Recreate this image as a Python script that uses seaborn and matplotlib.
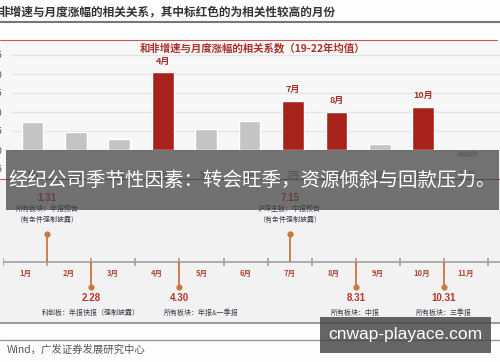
import numpy as np
import pandas as pd
import seaborn as sns
import matplotlib.pyplot as plt
from matplotlib.patches import Rectangle
from matplotlib.lines import Line2D

# bar chart data (12月 lies outside the crop)
months = ['1月', '2月', '3月', '4月', '5月', '6月', '7月', '8月', '9月', '10月', '11月']
corr = [0.075, 0.047, 0.029, 0.204, 0.055, 0.076, 0.130, 0.099, 0.015, 0.113, -0.019]
highlight = ['4月', '7月', '8月', '10月']
yticks = [-0.05, 0.00, 0.05, 0.10, 0.15, 0.20, 0.25]

# timeline data
tl_months = ['1月', '2月', '3月', '4月', '5月', '6月', '7月', '8月', '9月', '10月', '11月']
events = ['1.31', '2.28', '4.30', '7.15', '8.31', '10.31']
event_pos = [1.0, 2.0, 4.0, 6.5, 8.0, 10.0]
event_up = [True, False, False, True, False, False]
event_desc = ['所有板块：年报预告\n（有条件强制披露）',
              '科创板：年报快报（强制披露）',
              '所有板块：年报&一季报',
              '沪深主板：中报预告\n（有条件强制披露）',
              '所有板块：中报',
              '所有板块：三季报']

header = '非增速与月度涨幅的相关关系，其中标红色的为相关性较高的月份'
chart_title = '和非增速与月度涨幅的相关系数（19-22年均值）'
banner = '经纪公司季节性因素：转会旺季，资源倾斜与回款压力。'
source = 'Wind，广发证券发展研究中心'
watermark = 'cnwap-playace.com'

sns.set_style('white')
plt.rcParams['font.family'] = ['Noto Sans CJK SC', 'DejaVu Sans']

W, H = 500, 362
def fx(x):
    return x / W
def fy(y):
    return 1 - y / H

RED = '#a8221c'
DARKRED = '#a8322a'
fig = plt.figure(figsize=(5, 3.62), dpi=100, facecolor='#fdfdfd')

# backgrounds
fig.add_artist(Rectangle((0, fy(179)), 1, 139 / H, transform=fig.transFigure,
                         facecolor='#f7f7f7', edgecolor='none', zorder=-2))
fig.add_artist(Rectangle((0, fy(323)), 1, 144 / H, transform=fig.transFigure,
                         facecolor='#f2f2f2', edgecolor='none', zorder=-2))

# ---- bar chart
df = pd.DataFrame({'month': months, 'corr': corr})
palette = {m: (RED if m in highlight else '#c4c4c4') for m in months}
ax = fig.add_axes([10.8 / W, fy(169), 521 / W, 125.4 / H])
sns.barplot(data=df, x='month', y='corr', hue='month', palette=palette, legend=False,
            width=0.5, saturation=1, ax=ax)
ax.set_xlim(-0.5, 11.5)
ax.set_ylim(-0.05, 0.28)
ax.set_yticks(yticks)
ax.set_yticklabels([f'{t:.2f}' for t in yticks])
ax.grid(axis='y', color='#e4e4e4', lw=0.8)
ax.set_axisbelow(True)
ax.set_facecolor('none')
ax.set_xlabel('')
ax.set_ylabel('')
sns.despine(ax=ax, left=True, bottom=True)
ax.tick_params(axis='y', length=0, pad=6, labelsize=6.5, labelcolor='#555555')
ax.tick_params(axis='x', length=0, pad=1.5, labelsize=6, labelcolor='#666666')
for i, (m, v) in enumerate(zip(months, corr)):
    if m in highlight:
        ax.annotate(m, (i, v), xytext=(0, 5), textcoords='offset points', ha='center',
                    va='bottom', fontsize=6.5, fontweight='bold', color=DARKRED)

fig.text(-0.004, fy(12), header, fontsize=8.4, fontweight='bold', color='#333333',
         ha='left', va='center')
fig.add_artist(Line2D([0, 1], [fy(22), fy(22)], color='#777777', lw=1.5))
fig.add_artist(Line2D([0, 497 / W], [fy(40), fy(40)], color='#c9574f', lw=0.8))
fig.add_artist(Line2D([0, 1], [fy(179), fy(179)], color='#c9574f', lw=0.8))
fig.text(fx(252), fy(48), chart_title, fontsize=7.5, fontweight='bold', color=DARKRED,
         ha='center', va='center')

# ---- timeline
tax = fig.add_axes([3 / W, fy(325), 529.2 / W, 140 / H])
tax.set_xlim(0, 12)
tax.set_ylim(325, 185)
tax.axis('off')
tax.plot([0, 12], [262, 262], color='#a0a0a0', lw=1.2)
tax.vlines(range(13), 258, 266, color='#a0a0a0', lw=1.2)
for i, m in enumerate(tl_months):
    tax.text(i + 0.5, 273, m, ha='center', va='center', fontsize=5.5,
             fontweight='bold', color='#b04a3a')
STEM = '#c87840'
for name, x, up, desc in zip(events, event_pos, event_up, event_desc):
    end = 234 if up else 287
    tax.vlines(x, 262, end, color=STEM, lw=1.3)
    tax.scatter([x], [end], s=12, color=STEM, zorder=3)
    num_y = 198 if up else 298
    tax.text(x, num_y, name, ha='center', va='center', fontsize=7, fontweight='bold',
             color='#b5352a', family=['Liberation Sans', 'DejaVu Sans'])
    lines = desc.split('\n')
    y0 = 209 if up else 313
    dx, ha = (-0.35, 'left') if name == '4.30' else (0, 'center')
    for k, line in enumerate(lines):
        tax.text(x + dx, y0 + 10.5 * k, line, ha=ha, va='center', fontsize=5,
                 color='#3a3a4a')

# ---- footer
fig.add_artist(Line2D([0, 1], [fy(323), fy(323)], color='#8a8a8a', lw=1.2))
fig.add_artist(Line2D([0, 1], [fy(340), fy(340)], color='#9a9a9a', lw=1.0))
fig.text(fx(7), fy(350), source, fontsize=7.5, color='#555555', ha='left', va='center')

# ---- overlays
fig.add_artist(Rectangle((fx(6), fy(210)), 493 / W, 60 / H, transform=fig.transFigure,
                         facecolor='#444444', edgecolor='none', alpha=0.74, zorder=10))
fig.text(fx(8), fy(180), banner, fontsize=14, color='white', ha='left', va='center',
         zorder=11)
fig.add_artist(Rectangle((fx(320), fy(353)), 171 / W, 36 / H, transform=fig.transFigure,
                         facecolor='#444444', edgecolor='none', alpha=0.82, zorder=10))
fig.text(fx(405.5), fy(335), watermark, fontsize=12.5, color='white', ha='center',
         va='center', family=['Liberation Sans', 'DejaVu Sans'], zorder=11)

fig.savefig('out.png', dpi=100, facecolor=fig.get_facecolor())
